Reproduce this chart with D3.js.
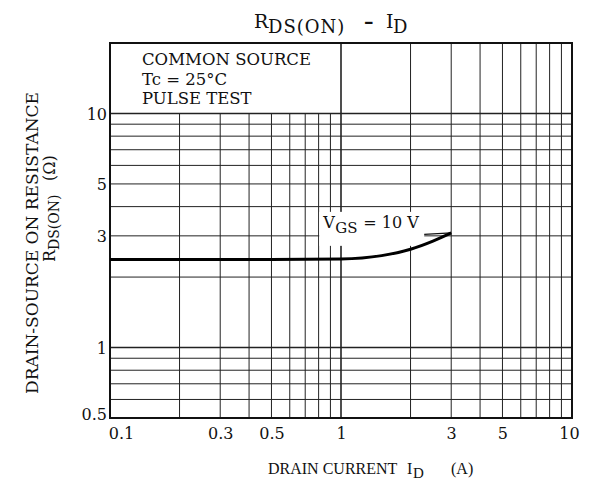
<!DOCTYPE html>
<html>
<head>
<meta charset="utf-8">
<script src="https://cdnjs.cloudflare.com/ajax/libs/d3/7.8.5/d3.min.js"></script>
<style>
  body { margin: 0; background: #fff; }
  text { font-family: "DejaVu Serif", "Liberation Serif", serif; fill: #111; white-space: pre; }
</style>
</head>
<body>
<svg id="svg1" width="590" height="483"></svg>
<script>
// data
var currentA = [0.1, 0.5, 1, 1.5, 2, 2.5, 3];
var rdsOhm   = [2.38, 2.38, 2.39, 2.47, 2.63, 2.85, 3.09];

var xTickLabels = [0.1, 0.3, 0.5, 1, 3, 5, 10];
var yTickLabels = [0.5, 1, 3, 5, 10];
var xGrid = [0.2, 0.3, 0.4, 0.5, 0.6, 0.7, 0.8, 0.9, 1, 2, 3, 4, 5, 6, 7, 8, 9];
var yGrid = [0.6, 0.7, 0.8, 0.9, 1, 2, 3, 4, 5, 6, 7, 8, 9, 10];
var noteLines = ["COMMON SOURCE", "Tc = 25°C", "PULSE TEST"];

var padding = {t: 43, r: 18, b: 65, l: 110};
var svg = d3.select("#svg1");
var svgWidth = +svg.attr("width");
var svgHeight = +svg.attr("height");
var chartWidth = svgWidth - padding.l - padding.r;
var chartHeight = svgHeight - padding.t - padding.b;

var x = d3.scaleLog().domain([0.1, 10]).range([0, chartWidth]);
var y = d3.scaleLog().domain([0.5, 20]).range([chartHeight, 0]);

var chartG = svg.append("g")
    .attr("transform", "translate(" + [padding.l, padding.t] + ")");

// grid - left decade verticals stop under the note box (at 10 ohm)
chartG.selectAll(".vgrid")
    .data(xGrid)
    .enter().append("line")
    .attr("class", "vgrid")
    .attr("x1", function(d) { return x(d); })
    .attr("x2", function(d) { return x(d); })
    .attr("y1", function(d) { return d < 1 ? y(10) : 0; })
    .attr("y2", chartHeight)
    .attr("stroke", "#222")
    .attr("stroke-width", function(d) { return d === 1 ? 1.6 : 1; });

chartG.selectAll(".hgrid")
    .data(yGrid)
    .enter().append("line")
    .attr("class", "hgrid")
    .attr("x1", 0)
    .attr("x2", chartWidth)
    .attr("y1", function(d) { return y(d); })
    .attr("y2", function(d) { return y(d); })
    .attr("stroke", "#222")
    .attr("stroke-width", function(d) { return (d === 1 || d === 10) ? 1.5 : 1; });

// frame
chartG.append("rect")
    .attr("width", chartWidth)
    .attr("height", chartHeight)
    .attr("fill", "none")
    .attr("stroke", "#111")
    .attr("stroke-width", 2);

// tick labels through d3 axes, lines hidden
var xAxis = d3.axisBottom(x).tickValues(xTickLabels).tickSize(0).tickPadding(0)
    .tickFormat(function(d) { return d3.format("")(d); });
var gx = chartG.append("g")
    .attr("transform", "translate(0," + chartHeight + ")")
    .call(xAxis);
gx.select(".domain").remove();
gx.selectAll("text")
    .attr("y", 21)
    .attr("dy", 0)
    .attr("dx", function(d) { return d === 0.1 ? 11 : (d === 10 ? -3 : 0); })
    .style("font-size", "16px")
    .style("font-family", "DejaVu Serif");

var yAxis = d3.axisLeft(y).tickValues(yTickLabels).tickSize(0).tickPadding(3)
    .tickFormat(function(d) { return d3.format("")(d); });
var gy = chartG.append("g").call(yAxis);
gy.select(".domain").remove();
gy.selectAll("text")
    .attr("dy", function(d) { return d === 0.5 ? "0.1em" : "0.36em"; })
    .style("font-size", "16px")
    .style("font-family", "DejaVu Serif");

// curve label with white patch behind it
var xEnd = x(currentA[currentA.length - 1]);
var yEnd = y(rdsOhm[rdsOhm.length - 1]);
chartG.append("rect")
    .attr("x", xEnd - 132)
    .attr("y", yEnd - 21)
    .attr("width", 105)
    .attr("height", 34)
    .attr("fill", "#fff");

var vgs = chartG.append("text")
    .attr("y", yEnd - 5)
    .style("font-size", "16px");
vgs.append("tspan").attr("x", xEnd - 128).text("V");
vgs.append("tspan").attr("x", xEnd - 116).attr("dy", 5).style("font-size", "15px").text("GS");
vgs.append("tspan").attr("x", xEnd - 88).attr("dy", -5).text("= 10 V");

chartG.append("line")
    .attr("x1", xEnd - 27).attr("x2", xEnd)
    .attr("y1", yEnd + 1.5).attr("y2", yEnd)
    .attr("stroke", "#111").attr("stroke-width", 1.2);

// the curve
var line = d3.line()
    .x(function(d) { return x(d[0]); })
    .y(function(d) { return y(d[1]); })
    .curve(d3.curveMonotoneX);

chartG.append("path")
    .datum(d3.zip(currentA, rdsOhm))
    .attr("d", line)
    .attr("fill", "none")
    .attr("stroke", "#000")
    .attr("stroke-width", 3);

// note box text
chartG.selectAll(".note")
    .data(noteLines)
    .enter().append("text")
    .attr("class", "note")
    .attr("x", 32)
    .attr("y", function(d, i) { return 22 + i * 19.5; })
    .style("font-size", "16.5px")
    .text(function(d) { return d; });

// title
var title = svg.append("text")
    .attr("y", 28)
    .style("font-size", "19px");
title.append("tspan").attr("x", 254).text("R");
title.append("tspan").attr("x", 268).attr("dy", 5).style("font-size", "18px")
    .style("letter-spacing", "1px").text("DS(ON)");
title.append("tspan").attr("x", 364).attr("dy", -5).style("font-weight", "bold").text("\u2013");
title.append("tspan").attr("x", 386).text("I");
title.append("tspan").attr("x", 393).attr("dy", 5).style("font-size", "18px").text("D");

// x axis title
var xt = svg.append("text")
    .attr("y", 474)
    .style("font-family", "Liberation Serif")
    .style("font-size", "16px");
xt.append("tspan").attr("x", 268).text("DRAIN CURRENT");
xt.append("tspan").attr("x", 407).text("I");
xt.append("tspan").attr("x", 413).attr("dy", 4).style("font-size", "15px").text("D");
xt.append("tspan").attr("x", 451).attr("dy", -4).text("(A)");

// y axis title, two lines
svg.append("text")
    .attr("transform", "translate(38,243) rotate(-90)")
    .attr("text-anchor", "middle")
    .style("font-size", "17px")
    .text("DRAIN-SOURCE ON RESISTANCE");

var yt = svg.append("text")
    .attr("transform", "translate(55,262) rotate(-90)")
    .style("font-size", "16px");
yt.append("tspan").attr("x", 0).text("R");
yt.append("tspan").attr("x", 12).attr("dy", 4).style("font-size", "14px").text("DS(ON)");
yt.append("tspan").attr("x", 81).attr("dy", -4).text("(\u03A9)");
</script>
</body>
</html>
